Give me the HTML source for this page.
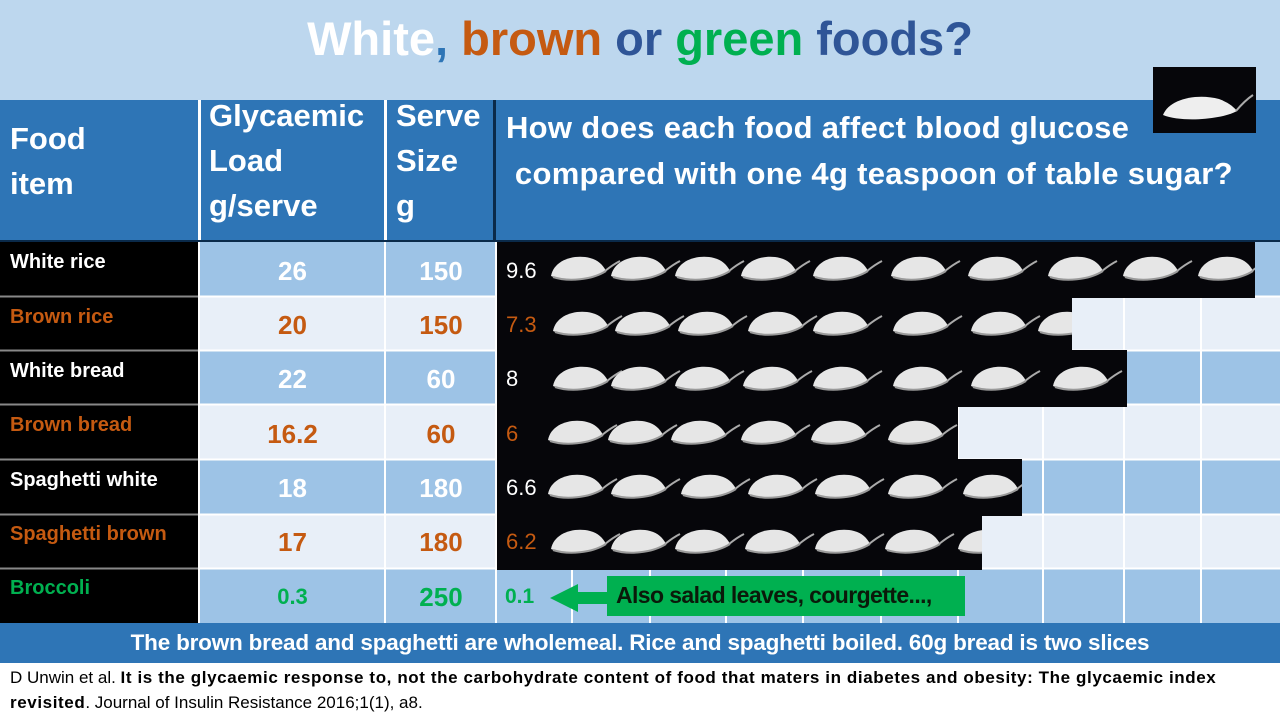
<!DOCTYPE html>
<html><head><meta charset="utf-8"><style>
*{margin:0;padding:0;box-sizing:border-box}
body{width:1280px;height:720px;overflow:hidden;background:#fff;font-family:"Liberation Sans",sans-serif;position:relative}
.a{position:absolute}
.t{font-weight:bold;white-space:nowrap}
</style></head><body>
<div class="a" style="left:0;top:0;width:1280px;height:100px;background:#bdd7ee"></div>
<div class="a t" style="left:0;top:11px;width:1280px;text-align:center;font-size:47px;color:#fff">White<span style="color:#2e75b6">,</span> <span style="color:#c55a11">brown</span> <span style="color:#2f5597">or</span> <span style="color:#00b050">green</span> <span style="color:#2f5597">foods?</span></div>
<div class="a" style="left:0;top:100px;width:1280px;height:140px;background:#2e75b6"></div>
<div class="a" style="left:198px;top:100px;width:3px;height:140px;background:#fff"></div>
<div class="a" style="left:384px;top:100px;width:3px;height:140px;background:#fff"></div>
<div class="a" style="left:493px;top:100px;width:3px;height:140px;background:#0a2a4a"></div>
<div class="a t" style="left:10px;top:116px;font-size:31px;line-height:45px;color:#fff">Food<br>item</div>
<div class="a t" style="left:209px;top:93px;font-size:31px;line-height:45px;color:#fff">Glycaemic<br>Load<br>g/serve</div>
<div class="a t" style="left:396px;top:93px;font-size:31px;line-height:45px;color:#fff">Serve<br>Size<br>g</div>
<div class="a t" style="left:506px;top:105px;font-size:31px;line-height:46px;color:#fff;letter-spacing:0.3px">How does each food affect blood glucose<br>&nbsp;compared with one 4g teaspoon of table sugar?</div>
<div class="a" style="left:0;top:240px;width:1280px;height:2px;background:#0a2a4a"></div>
<svg class="a" style="left:0;top:0" width="1280" height="720">
<defs>
<g id="sp"><path d="M3 34 C6 18 26 12 42 16 C50 18 55 23 58 29 C46 38 16 40 3 34Z" fill="#e6e6e6"/><path d="M5 35 C20 40 44 38 58 29" stroke="#9a9a9a" stroke-width="2" fill="none"/><path d="M57 29 C62 25 66 22 72 19" stroke="#aaa" stroke-width="2" fill="none"/></g>
<g id="big"><path d="M10 48 C16 32 44 26 66 32 C74 35 80 39 84 44 C70 52 30 56 10 48Z" fill="#eee"/><path d="M83 44 C88 38 94 32 100 28" stroke="#aaa" stroke-width="2" fill="none"/></g>
</defs>
<rect x="0" y="242" width="198" height="381" fill="#000"/>
<rect x="200" y="242" width="1080" height="54" fill="#9dc3e6"/>
<rect x="200" y="297" width="1080" height="53" fill="#e8eff8"/>
<rect x="200" y="351" width="1080" height="53" fill="#9dc3e6"/>
<rect x="200" y="405" width="1080" height="54" fill="#e8eff8"/>
<rect x="200" y="460" width="1080" height="54" fill="#9dc3e6"/>
<rect x="200" y="515" width="1080" height="53" fill="#e8eff8"/>
<rect x="200" y="569" width="1080" height="54" fill="#9dc3e6"/>
<g stroke="#fff" stroke-width="2">
<line x1="385" y1="242" x2="385" y2="623"/><line x1="496" y1="242" x2="496" y2="623"/>
<line x1="572" y1="242" x2="572" y2="623"/><line x1="650" y1="242" x2="650" y2="623"/><line x1="726" y1="242" x2="726" y2="623"/><line x1="803" y1="242" x2="803" y2="623"/><line x1="881" y1="242" x2="881" y2="623"/><line x1="958" y1="242" x2="958" y2="623"/><line x1="1043" y1="242" x2="1043" y2="623"/><line x1="1124" y1="242" x2="1124" y2="623"/><line x1="1201" y1="242" x2="1201" y2="623"/>
<line x1="200" y1="296.5" x2="1280" y2="296.5"/><line x1="200" y1="350.5" x2="1280" y2="350.5"/><line x1="200" y1="404.5" x2="1280" y2="404.5"/><line x1="200" y1="459.5" x2="1280" y2="459.5"/><line x1="200" y1="514.5" x2="1280" y2="514.5"/><line x1="200" y1="568.5" x2="1280" y2="568.5"/>
</g>
<g stroke="#888" stroke-width="2"><line x1="0" y1="296.5" x2="198" y2="296.5"/><line x1="0" y1="350.5" x2="198" y2="350.5"/><line x1="0" y1="404.5" x2="198" y2="404.5"/><line x1="0" y1="459.5" x2="198" y2="459.5"/><line x1="0" y1="514.5" x2="198" y2="514.5"/><line x1="0" y1="568.5" x2="198" y2="568.5"/></g>
<rect x="497" y="242" width="758" height="56" fill="#06060a"/>
<rect x="497" y="297" width="575" height="53" fill="#06060a"/>
<rect x="497" y="350" width="630" height="57" fill="#06060a"/>
<rect x="497" y="406" width="461" height="54" fill="#06060a"/>
<rect x="497" y="459" width="525" height="57" fill="#06060a"/>
<rect x="497" y="515" width="485" height="55" fill="#06060a"/>
<clipPath id="c1"><rect x="540" y="242" width="715" height="56"/></clipPath>
<clipPath id="c2"><rect x="540" y="297" width="532" height="53"/></clipPath>
<clipPath id="c3"><rect x="540" y="350" width="587" height="57"/></clipPath>
<clipPath id="c4"><rect x="540" y="406" width="418" height="54"/></clipPath>
<clipPath id="c5"><rect x="540" y="459" width="482" height="57"/></clipPath>
<clipPath id="c6"><rect x="540" y="515" width="442" height="55"/></clipPath>
<g clip-path="url(#c1)"><use href="#sp" x="548" y="242"/><use href="#sp" x="608" y="242"/><use href="#sp" x="672" y="242"/><use href="#sp" x="738" y="242"/><use href="#sp" x="810" y="242"/><use href="#sp" x="888" y="242"/><use href="#sp" x="965" y="242"/><use href="#sp" x="1045" y="242"/><use href="#sp" x="1120" y="242"/><use href="#sp" x="1195" y="242"/></g>
<g clip-path="url(#c2)"><use href="#sp" x="550" y="297"/><use href="#sp" x="612" y="297"/><use href="#sp" x="675" y="297"/><use href="#sp" x="745" y="297"/><use href="#sp" x="810" y="297"/><use href="#sp" x="890" y="297"/><use href="#sp" x="968" y="297"/><use href="#sp" x="1035" y="297"/></g>
<g clip-path="url(#c3)"><use href="#sp" x="550" y="352"/><use href="#sp" x="608" y="352"/><use href="#sp" x="672" y="352"/><use href="#sp" x="740" y="352"/><use href="#sp" x="810" y="352"/><use href="#sp" x="890" y="352"/><use href="#sp" x="968" y="352"/><use href="#sp" x="1050" y="352"/></g>
<g clip-path="url(#c4)"><use href="#sp" x="545" y="406"/><use href="#sp" x="605" y="406"/><use href="#sp" x="668" y="406"/><use href="#sp" x="738" y="406"/><use href="#sp" x="808" y="406"/><use href="#sp" x="885" y="406"/></g>
<g clip-path="url(#c5)"><use href="#sp" x="545" y="460"/><use href="#sp" x="608" y="460"/><use href="#sp" x="678" y="460"/><use href="#sp" x="745" y="460"/><use href="#sp" x="812" y="460"/><use href="#sp" x="885" y="460"/><use href="#sp" x="960" y="460"/></g>
<g clip-path="url(#c6)"><use href="#sp" x="548" y="515"/><use href="#sp" x="608" y="515"/><use href="#sp" x="672" y="515"/><use href="#sp" x="742" y="515"/><use href="#sp" x="812" y="515"/><use href="#sp" x="882" y="515"/><use href="#sp" x="955" y="515"/></g>
<rect x="1153" y="67" width="103" height="66" fill="#06060a"/>
<use href="#big" x="1153" y="67"/>
<polygon points="550,598 578,584 578,592 608,592 608,604 578,604 578,612" fill="#00b050"/>
<rect x="607" y="576" width="358" height="40" fill="#00b050"/>
<rect x="0" y="623" width="1280" height="40" fill="#2e75b6"/>
</svg>
<div class="a t" style="left:10px;top:251px;font-size:20px;color:#fff">White rice</div>
<div class="a t" style="left:10px;top:306px;font-size:20px;color:#c55a11">Brown rice</div>
<div class="a t" style="left:10px;top:360px;font-size:20px;color:#fff">White bread</div>
<div class="a t" style="left:10px;top:414px;font-size:20px;color:#c55a11">Brown bread</div>
<div class="a t" style="left:10px;top:469px;font-size:20px;color:#fff">Spaghetti white</div>
<div class="a t" style="left:10px;top:523px;font-size:20px;color:#c55a11">Spaghetti brown</div>
<div class="a t" style="left:10px;top:577px;font-size:20px;color:#00b050">Broccoli</div>
<div class="a t" style="left:200px;top:256px;width:185px;text-align:center;font-size:26px;color:#fff">26</div>
<div class="a t" style="left:200px;top:310px;width:185px;text-align:center;font-size:26px;color:#c55a11">20</div>
<div class="a t" style="left:200px;top:364px;width:185px;text-align:center;font-size:26px;color:#fff">22</div>
<div class="a t" style="left:200px;top:419px;width:185px;text-align:center;font-size:26px;color:#c55a11">16.2</div>
<div class="a t" style="left:200px;top:473px;width:185px;text-align:center;font-size:26px;color:#fff">18</div>
<div class="a t" style="left:200px;top:527px;width:185px;text-align:center;font-size:26px;color:#c55a11">17</div>
<div class="a t" style="left:200px;top:584px;width:185px;text-align:center;font-size:22px;color:#00b050">0.3</div>
<div class="a t" style="left:386px;top:256px;width:110px;text-align:center;font-size:26px;color:#fff">150</div>
<div class="a t" style="left:386px;top:310px;width:110px;text-align:center;font-size:26px;color:#c55a11">150</div>
<div class="a t" style="left:386px;top:364px;width:110px;text-align:center;font-size:26px;color:#fff">60</div>
<div class="a t" style="left:386px;top:419px;width:110px;text-align:center;font-size:26px;color:#c55a11">60</div>
<div class="a t" style="left:386px;top:473px;width:110px;text-align:center;font-size:26px;color:#fff">180</div>
<div class="a t" style="left:386px;top:527px;width:110px;text-align:center;font-size:26px;color:#c55a11">180</div>
<div class="a t" style="left:386px;top:582px;width:110px;text-align:center;font-size:26px;color:#00b050">250</div>
<div class="a" style="left:506px;top:258px;font-size:22px;color:#fff">9.6</div>
<div class="a" style="left:506px;top:312px;font-size:22px;color:#c55a11">7.3</div>
<div class="a" style="left:506px;top:366px;font-size:22px;color:#fff">8</div>
<div class="a" style="left:506px;top:421px;font-size:22px;color:#c55a11">6</div>
<div class="a" style="left:506px;top:475px;font-size:22px;color:#fff">6.6</div>
<div class="a" style="left:506px;top:529px;font-size:22px;color:#c55a11">6.2</div>
<div class="a t" style="left:505px;top:585px;font-size:21px;color:#00b050">0.1</div>
<div class="a t" style="left:616px;top:582px;font-size:23px;color:#0a1a0a;letter-spacing:-0.6px">Also salad leaves, courgette...,</div>
<div class="a t" style="left:0;top:630px;width:1280px;text-align:center;font-size:22.5px;color:#fff;letter-spacing:-0.2px">The brown bread and spaghetti are wholemeal. Rice and spaghetti boiled. 60g bread is two slices</div>
<div class="a" style="left:10px;top:665px;width:1270px;font-size:17px;line-height:25px;color:#000;white-space:nowrap">D Unwin et al. <b style="letter-spacing:0.6px">It is the glycaemic response to, not the carbohydrate content of food that maters in diabetes and obesity: The glycaemic index<br>revisited</b>. Journal of Insulin Resistance 2016;1(1), a8.</div>
</body></html>
